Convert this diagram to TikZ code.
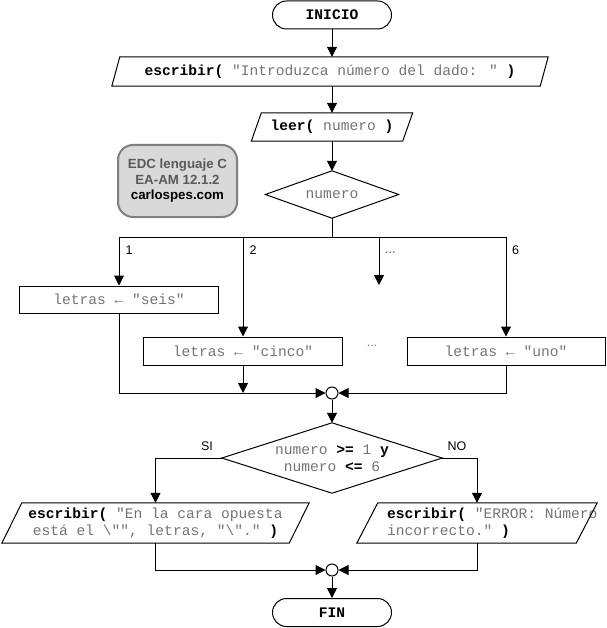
\documentclass[tikz,border=0pt]{standalone}
\usepackage{fontspec}
\setmainfont{Liberation Sans}
\newfontfamily\codefont{Liberation Mono}
\usetikzlibrary{arrows.meta}
\newcommand\kw[1]{\textcolor{black}{\textbf{#1}}}
\newcommand\paraShape[2]{\draw[line] ([xshift=#2]#1.north west) -- ([xshift=#2]#1.north east) -- ([xshift=-#2]#1.south east) -- ([xshift=-#2]#1.south west) -- cycle;}
\tikzset{
  line/.style={draw=black, line width=1pt},
  arr/.style={line, -{Triangle[length=10pt,width=10pt]}},
  code/.style={font=\codefont\fontsize{14.6}{17}\selectfont, text=black!55, inner sep=0pt},
  rbox/.style={code, draw=black, line width=1pt},
  term/.style={code, draw=black, line width=1pt, rounded corners=14pt, minimum width=119pt, minimum height=28pt},
  lbl/.style={font=\fontsize{12.5}{14}\selectfont, inner sep=0pt},
  merge/.style={circle, draw=black, line width=1pt, fill=white, minimum size=12pt, inner sep=0pt},
}
\begin{document}
\begin{tikzpicture}[x=1pt,y=-1pt]
\useasboundingbox (0,0) rectangle (606,628);

% nodes
\node[term] (ini) at (332,15) {\kw{INICIO}};
\node[code, minimum width=428pt, minimum height=29pt] (esc) at (330,71.5) {\kw{escribir(} "Introduzca número del dado: " \kw{)}};
\node[code, minimum width=151pt, minimum height=28pt] (leer) at (332,127) {\kw{leer(} numero \kw{)}};
\node[code, minimum width=133pt, minimum height=47pt] (d1) at (332,194.5) {numero};

\node[draw=black!50, line width=2pt, fill=black!15, rounded corners=15pt, minimum width=119pt, minimum height=72pt, align=center,
      font=\bfseries\fontsize{13.3}{15.5}\selectfont, inner sep=0pt] (edc) at (177.5,181)
      {\textcolor{black!65}{EDC lenguaje C}\\\textcolor{black!65}{EA-AM 12.1.2}\\carlospes.com};

\coordinate (busL) at (119,237);
\coordinate (busR) at (506,237);
\coordinate (dots) at (379,285);

\node[rbox, minimum width=199pt, minimum height=27pt] (seis) at (119,299.5) {letras ← "seis"};
\node[rbox, minimum width=199pt, minimum height=28pt] (cinco) at (243,351) {letras ← "cinco"};
\node[rbox, minimum width=198pt, minimum height=28pt] (uno) at (506,351) {letras ← "uno"};

\node[lbl, anchor=west] (l1) at (125.5,250) {1};
\node[lbl, anchor=west] (l2) at (249.5,250) {2};
\node[lbl, anchor=west, text=black!70] (l3) at (385,253) {...};
\node[lbl, anchor=west] (l6) at (512,250) {6};
\node[lbl, text=black!55] (lmid) at (372,346) {...};

\node[merge] (m1) at (332,393) {};
\node[code, minimum width=220pt, minimum height=70pt, align=center] (d2) at (332,458)
  {numero \kw{>=} 1 \kw{y}\\numero \kw{<=} 6};
\node[lbl] (si) at (207,446) {SI};
\node[lbl] (no) at (457,446) {NO};

\node[code, minimum width=287pt, minimum height=40pt, align=center] (siout) at (155.5,523)
  {\kw{escribir(} "En la cara opuesta\\está el \textbackslash"", letras, "\textbackslash"." \kw{)}};
\node[code, minimum width=219pt, minimum height=40pt] (noout) at (477,523) {};
\node[code, anchor=west, align=left] (notext) at (387,523)
  {\kw{escribir(} "ERROR: Número\\incorrecto." \kw{)}};

\node[merge] (m2) at (332,570) {};
\node[term] (fin) at (332,612.5) {\kw{FIN}};

% shapes
\paraShape{esc}{4}
\paraShape{leer}{5}
\paraShape{siout}{10}
\paraShape{noout}{10.5}
\draw[line] (d1.north) -- (d1.east) -- (d1.south) -- (d1.west) -- cycle;
\draw[line] (d2.north) -- (d2.east) -- (d2.south) -- (d2.west) -- cycle;

% connectors
\draw[arr] (ini.south) -- (ini.south |- esc.north);
\draw[arr] (ini.south |- esc.south) -- (ini.south |- leer.north);
\draw[arr] (ini.south |- leer.south) -- (d1.north);
\draw[line] (d1.south) -- (d1.south |- busL);
\draw[line] (busL) -- (busR);
\draw[arr] (busL) -- (seis.north);
\draw[arr] (cinco.north |- busL) -- (cinco.north);
\draw[arr] (dots |- busL) -- (dots);
\draw[arr] (busR) -- (uno.north);
\draw[arr] (seis.south) |- (m1.west);
\draw[arr] (cinco.south) -- (cinco.south |- m1.center);
\draw[arr] (uno.south) |- (m1.east);
\draw[arr] (m1.south) -- (d2.north);
\draw[arr] (d2.west) -| (siout.north);
\draw[arr] (d2.east) -| (noout.north);
\draw[arr] (siout.south) |- (m2.west);
\draw[arr] (noout.south) |- (m2.east);
\draw[arr] (m2.south) -- (fin.north);
\end{tikzpicture}
\end{document}
